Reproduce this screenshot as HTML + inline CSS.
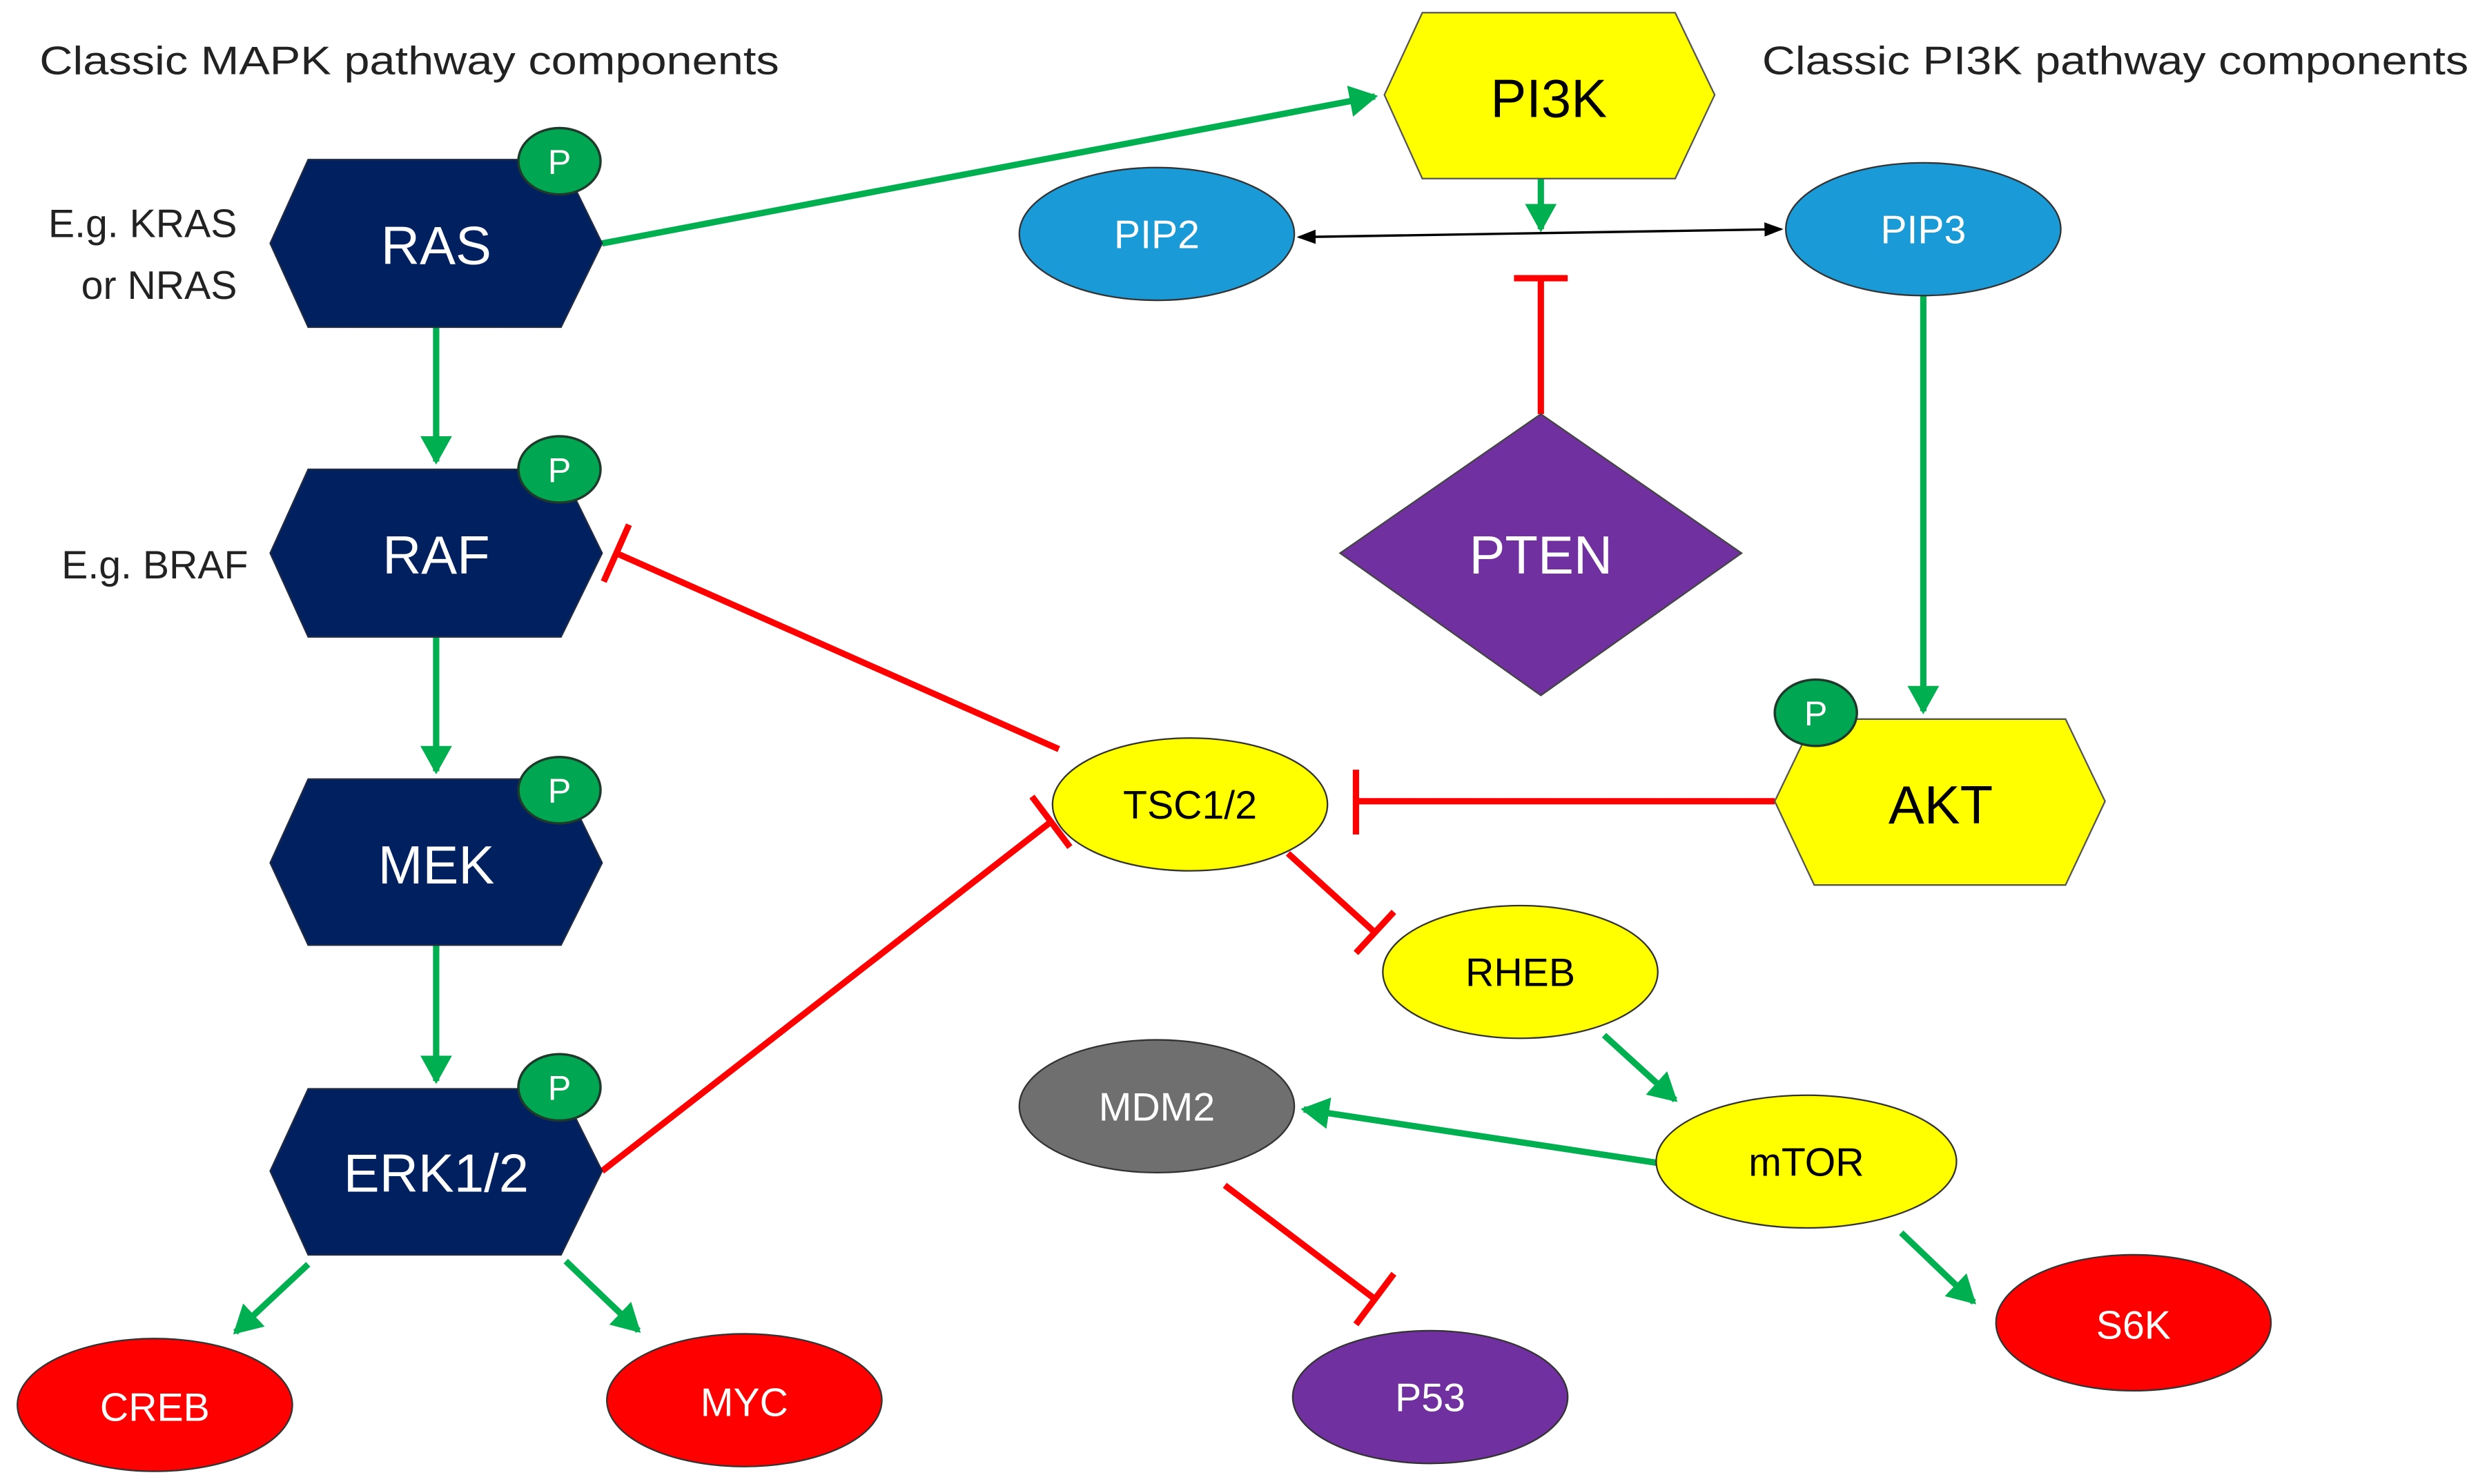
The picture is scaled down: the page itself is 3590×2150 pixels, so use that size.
<!DOCTYPE html>
<html><head><meta charset="utf-8"><style>
html,body{margin:0;padding:0;background:#fff;width:3590px;height:2150px;overflow:hidden}
svg{display:block}
text{font-family:"Liberation Sans",sans-serif}
</style></head><body>
<svg width="3590" height="2150" viewBox="0 0 1568 939" xmlns="http://www.w3.org/2000/svg">
<defs>
<marker id="ga" markerWidth="5" markerHeight="5" refX="4" refY="2.5" orient="auto" markerUnits="strokeWidth"><path d="M0,0 L4.5,2.5 L0,5 z" fill="#00b050"/></marker>
<marker id="ka" markerWidth="8" markerHeight="8" refX="7" refY="4" orient="auto-start-reverse" markerUnits="strokeWidth"><path d="M0,1 L8,4 L0,7 z" fill="#000"/></marker>
</defs>
<g font-size="25" fill="#222">
<text x="25" y="47" textLength="468" lengthAdjust="spacingAndGlyphs">Classic MAPK pathway components</text>
<text x="1115" y="47" textLength="447" lengthAdjust="spacingAndGlyphs">Classic PI3K pathway components</text>
<text x="150" y="150" text-anchor="end">E.g. KRAS</text>
<text x="150" y="189" text-anchor="end">or NRAS</text>
<text x="157" y="366" text-anchor="end">E.g. BRAF</text>
</g>
<g stroke="#00b050" stroke-width="4" fill="none" marker-end="url(#ga)">
<line x1="381" y1="154" x2="870" y2="61"/>
<line x1="276" y1="207" x2="276" y2="292"/>
<line x1="276" y1="403" x2="276" y2="488"/>
<line x1="276" y1="598" x2="276" y2="684"/>
<line x1="975" y1="113" x2="975" y2="145"/>
<line x1="1217" y1="187" x2="1217" y2="450"/>
<line x1="1015" y1="655" x2="1060" y2="696"/>
<line x1="1050" y1="736" x2="825" y2="702"/>
<line x1="1203" y1="780" x2="1249" y2="824"/>
<line x1="195" y1="800" x2="149" y2="843"/>
<line x1="358" y1="798" x2="404" y2="842"/>
</g>
<line x1="822" y1="150" x2="1127" y2="145" stroke="#000" stroke-width="1.5" marker-start="url(#ka)" marker-end="url(#ka)"/>
<g stroke="#ff0000" stroke-width="4" fill="none">
<line x1="975" y1="262" x2="975" y2="176"/><line x1="958" y1="176" x2="992" y2="176"/>
<line x1="1123" y1="507" x2="858" y2="507"/><line x1="858" y1="487" x2="858" y2="528"/>
<line x1="670" y1="474" x2="390" y2="350"/><line x1="398" y1="332" x2="382" y2="368"/>
<line x1="381" y1="741" x2="665" y2="520"/><line x1="653" y1="504" x2="677" y2="536"/>
<line x1="815" y1="540" x2="870" y2="590"/><line x1="858" y1="603" x2="882" y2="577"/>
<line x1="775" y1="750" x2="870" y2="822"/><line x1="858" y1="838" x2="882" y2="806"/>
</g>
<g fill="#002060" stroke="#1f2a44" stroke-width="1">
<polygon points="171,154 195,101 355,101 381,154 355,207 195,207"/>
<polygon points="171,350 195,297 355,297 381,350 355,403 195,403"/>
<polygon points="171,546 195,493 355,493 381,546 355,598 195,598"/>
<polygon points="171,741 195,689 355,689 381,741 355,794 195,794"/>
</g>
<polygon points="876,60 900,8 1060,8 1085,60 1060,113 900,113" fill="#ffff00" stroke="#555" stroke-width="1"/>
<polygon points="1123,507 1148,455 1307,455 1332,507 1307,560 1148,560" fill="#ffff00" stroke="#555" stroke-width="1"/>
<polygon points="975,262 1102,350 975,440 848,350" fill="#7030a0" stroke="#444" stroke-width="1"/>
<g stroke="#333" stroke-width="1">
<ellipse cx="732" cy="148" rx="87" ry="42" fill="#1a9ad6"/>
<ellipse cx="1217" cy="145" rx="87" ry="42" fill="#1a9ad6"/>
<ellipse cx="753" cy="509" rx="87" ry="42" fill="#ffff00"/>
<ellipse cx="962" cy="615" rx="87" ry="42" fill="#ffff00"/>
<ellipse cx="1143" cy="735" rx="95" ry="42" fill="#ffff00"/>
<ellipse cx="732" cy="700" rx="87" ry="42" fill="#6f6f6f"/>
<ellipse cx="905" cy="884" rx="87" ry="42" fill="#7030a0"/>
<ellipse cx="1350" cy="837" rx="87" ry="43" fill="#ff0000"/>
<ellipse cx="98" cy="889" rx="87" ry="42" fill="#ff0000"/>
<ellipse cx="471" cy="886" rx="87" ry="42" fill="#ff0000"/>
</g>
<g stroke="#1f3a2a" stroke-width="1.5" fill="#00a651">
<ellipse cx="354" cy="102" rx="26" ry="21"/>
<ellipse cx="354" cy="297" rx="26" ry="21"/>
<ellipse cx="354" cy="500" rx="26" ry="21"/>
<ellipse cx="354" cy="688" rx="26" ry="21"/>
<ellipse cx="1149" cy="451" rx="26" ry="21"/>
</g>
<g fill="#fff" font-size="22" text-anchor="middle">
<text x="354" y="110">P</text><text x="354" y="305">P</text><text x="354" y="508">P</text><text x="354" y="696">P</text><text x="1149" y="459">P</text>
</g>
<g fill="#fff" font-size="34" text-anchor="middle">
<text x="276" y="167">RAS</text><text x="276" y="363">RAF</text><text x="276" y="559">MEK</text><text x="276" y="754">ERK1/2</text>
<text x="975" y="363">PTEN</text>
</g>
<g fill="#000" font-size="34" text-anchor="middle">
<text x="980" y="74">PI3K</text><text x="1228" y="521">AKT</text>
</g>
<g fill="#fff" font-size="25" text-anchor="middle">
<text x="732" y="157">PIP2</text><text x="1217" y="154">PIP3</text>
<text x="732" y="709">MDM2</text><text x="905" y="893">P53</text>
<text x="1350" y="847">S6K</text><text x="98" y="899">CREB</text><text x="471" y="896">MYC</text>
</g>
<g fill="#000" font-size="25" text-anchor="middle">
<text x="753" y="518">TSC1/2</text><text x="962" y="624">RHEB</text><text x="1143" y="744">mTOR</text>
</g>
</svg>
</body></html>
